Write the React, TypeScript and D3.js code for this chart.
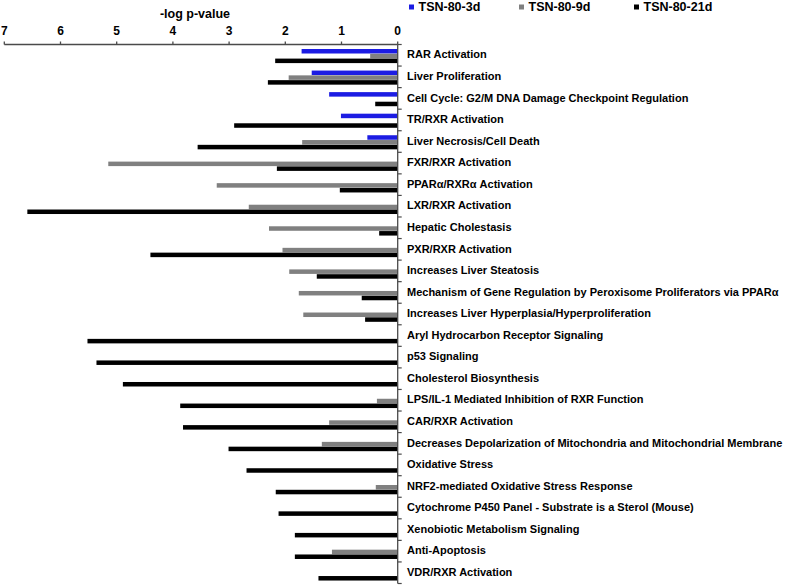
import React from "react";
import * as d3 from "d3";

const categories = [
  "RAR Activation",
  "Liver Proliferation",
  "Cell Cycle: G2/M DNA Damage Checkpoint Regulation",
  "TR/RXR Activation",
  "Liver Necrosis/Cell Death",
  "FXR/RXR Activation",
  "PPARα/RXRα Activation",
  "LXR/RXR Activation",
  "Hepatic Cholestasis",
  "PXR/RXR Activation",
  "Increases Liver Steatosis",
  "Mechanism of Gene Regulation by Peroxisome Proliferators via PPARα",
  "Increases Liver Hyperplasia/Hyperproliferation",
  "Aryl Hydrocarbon Receptor Signaling",
  "p53 Signaling",
  "Cholesterol Biosynthesis",
  "LPS/IL-1 Mediated Inhibition of RXR Function",
  "CAR/RXR Activation",
  "Decreases Depolarization of Mitochondria and Mitochondrial Membrane",
  "Oxidative Stress",
  "NRF2-mediated Oxidative Stress Response",
  "Cytochrome P450 Panel - Substrate is a Sterol (Mouse)",
  "Xenobiotic Metabolism Signaling",
  "Anti-Apoptosis",
  "VDR/RXR Activation",
];

const seriesNames = ["TSN-80-3d", "TSN-80-9d", "TSN-80-21d"];
const seriesColors = ["#1c1ce3", "#808080", "#000000"];

const values3d = [1.71, 1.53, 1.22, 1.01, 0.54, 0, 0, 0, 0, 0, 0, 0, 0, 0, 0, 0, 0, 0, 0, 0, 0, 0, 0, 0, 0];
const values9d = [0.49, 1.94, 0, 0, 1.7, 5.15, 3.22, 2.65, 2.29, 2.05, 1.93, 1.76, 1.68, 0, 0, 0, 0.37, 1.22, 1.35, 0, 0.39, 0, 0, 1.17, 0];
const values21d = [2.18, 2.31, 0.4, 2.91, 3.56, 2.15, 1.03, 6.59, 0.33, 4.4, 1.44, 0.64, 0.58, 5.52, 5.36, 4.89, 3.87, 3.82, 3.01, 2.69, 2.17, 2.12, 1.83, 1.83, 1.41];

const xTicks = [0, 1, 2, 3, 4, 5, 6, 7];
const axisTitle = "-log p-value";

export default function App() {
  const W = 787;
  const H = 586;
  const x = d3.scaleLinear().domain([0, 7]).range([397.7, 4.3]);
  const y = d3.scaleBand<string>().domain(categories).range([44.5, 583.5]).paddingInner(0).paddingOuter(0);
  const sub = d3.scaleBand<string>().domain(seriesNames).range([4.5, 18.6]).paddingInner(0.06);
  const allValues = [values3d, values9d, values21d];
  const font = "'Liberation Sans', Arial, sans-serif";
  const axisColor = "#4a4a4a";
  const x0 = x(0);
  const legendX = [409, 519, 634];
  const yEnd = 583.5;

  return (
    <svg width={W} height={H} style={{ position: "absolute", left: 0, top: 0 }} fontFamily={font}>
      <rect width={W} height={H} fill="#fff" />
      {/* title */}
      <text x={195} y={15} textAnchor="middle" dominantBaseline="middle" fontSize={12.5} fontWeight="bold">
        {axisTitle}
      </text>
      {/* legend */}
      {seriesNames.map((s, i) => (
        <g key={s}>
          <rect x={legendX[i]} y={4.5} width={5} height={5} fill={seriesColors[i]} />
          <text x={legendX[i] + 9.5} y={7.5} dominantBaseline="middle" fontSize={12.5} fontWeight="bold">
            {s}
          </text>
        </g>
      ))}
      {/* bars */}
      {categories.map((c, ci) => (
        <g key={c}>
          {seriesNames.map((s, si) => {
            const v = allValues[si][ci];
            if (!v) return null;
            return (
              <rect
                key={s}
                x={x(v)}
                y={(y(c) as number) + (sub(s) as number)}
                width={x0 - x(v)}
                height={sub.bandwidth()}
                fill={seriesColors[si]}
              />
            );
          })}
          <text
            x={407}
            y={(y(c) as number) + y.bandwidth() / 2 + 0.3}
            dominantBaseline="middle"
            fontSize={11}
            fontWeight="bold"
          >
            {c}
          </text>
        </g>
      ))}
      {/* x axis */}
      <line x1={x(7)} x2={x0} y1={44.5} y2={44.5} stroke={axisColor} strokeWidth={1.3} />
      {xTicks.map((t) => (
        <g key={t}>
          <line x1={x(t)} x2={x(t)} y1={41.5} y2={44.5} stroke={axisColor} strokeWidth={1.3} />
          <text x={x(t)} y={32} textAnchor="middle" dominantBaseline="middle" fontSize={12} fontWeight="bold">
            {t}
          </text>
        </g>
      ))}
      {/* y axis */}
      <line x1={x0} x2={x0} y1={44.5} y2={yEnd} stroke={axisColor} strokeWidth={1.3} />
      {categories.map((c) => (
        <line key={c} x1={x0} x2={x0 + 4} y1={y(c) as number} y2={y(c) as number} stroke={axisColor} strokeWidth={1.2} />
      ))}
      <line x1={x0} x2={x0 + 4} y1={yEnd} y2={yEnd} stroke={axisColor} strokeWidth={1.2} />
    </svg>
  );
}
